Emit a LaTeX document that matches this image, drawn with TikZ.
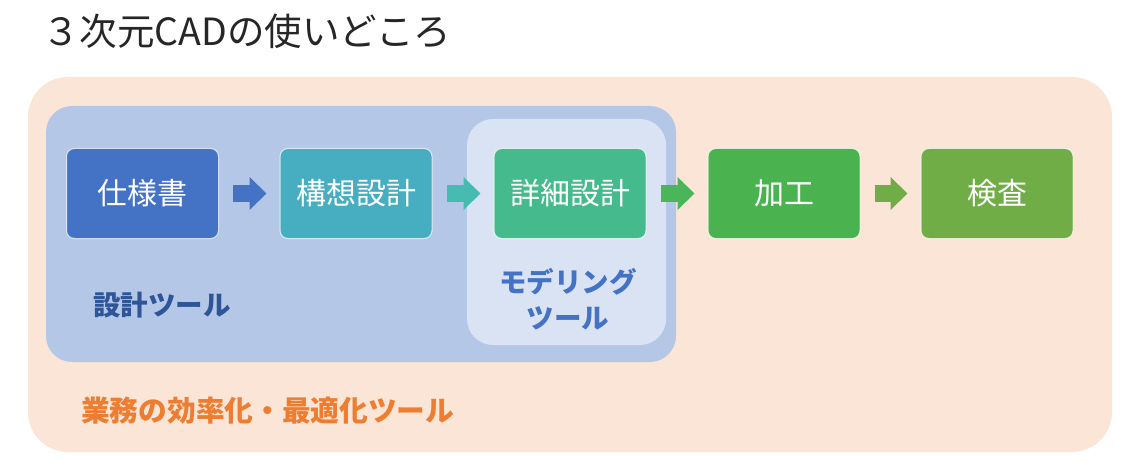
\documentclass[tikz,border=0pt]{standalone}
\usepackage{fontspec}
\newfontfamily\jp{Noto Sans CJK JP}
\usetikzlibrary{arrows.meta}
\definecolor{outerc}{HTML}{FBE5D6}
\definecolor{grpc}{HTML}{B4C7E7}
\definecolor{lgrpc}{HTML}{DAE3F3}
\definecolor{c1}{HTML}{4472C4}
\definecolor{c2}{HTML}{47AEC1}
\definecolor{c3}{HTML}{45BA8C}
\definecolor{c4}{HTML}{4BB250}
\definecolor{c5}{HTML}{70AD47}
\definecolor{a2}{HTML}{47BBAF}
\definecolor{a3}{HTML}{4BB55A}
\definecolor{dblue}{HTML}{2F5597}
\definecolor{orangec}{HTML}{ED7D31}
\definecolor{titlec}{HTML}{262626}
\begin{document}
\begin{tikzpicture}[x=1pt,y=-1pt,
  stepbox/.style={rectangle, rounded corners=8pt, minimum width=152pt, minimum height=90pt,
    draw=white, draw opacity=0.7, line width=1pt, text=white, inner sep=0pt,
    font=\jp\fontsize{30}{36}\selectfont},
  blockarrow/.style={line width=17pt, -{Triangle[length=17pt,width=32pt]}, shorten <=14pt, shorten >=13pt},
  lbl/.style={inner sep=0pt, font=\jp\bfseries\fontsize{27.5}{36}\selectfont}]
\useasboundingbox (0,0) rectangle (1125,468);
\fill[white] (0,0) rectangle (1125,468);
% containers
\fill[outerc, rounded corners=40pt] (28,77) rectangle (1112,452);
\fill[grpc, rounded corners=26pt] (46,106) rectangle (676,362);
\fill[lgrpc, rounded corners=26pt] (467,119) rectangle (666,345);
% title
\node[anchor=west, inner sep=0pt, text=titlec, font=\jp\fontsize{37.5}{42}\selectfont] (title) at (42,31) {３次元CADの使いどころ};
% process boxes
\node[stepbox, fill=c1] (b1) at (142.5,193.5) {仕様書};
\node[stepbox, fill=c2] (b2) at (356,193.5) {構想設計};
\node[stepbox, fill=c3] (b3) at (570,193.5) {詳細設計};
\node[stepbox, fill=c4] (b4) at (784,193.5) {加工};
\node[stepbox, fill=c5] (b5) at (997,193.5) {検査};
% arrows
\draw[blockarrow, c1] (b1) -- (b2);
\draw[blockarrow, a2] (b2) -- (b3);
\draw[blockarrow, a3] (b3) -- (b4);
\draw[blockarrow, c5] (b4) -- (b5);
% labels
\node[lbl, text=dblue] (design) at (162,305) {設計ツール};
\node[lbl, text=c1, align=center] (model) at (568,299) {モデリング\\ツール};
\node[lbl, text=orangec, anchor=west, font=\jp\bfseries\fontsize{28.7}{36}\selectfont] (eff) at (81,411) {業務の効率化・最適化ツール};
\end{tikzpicture}
\end{document}
